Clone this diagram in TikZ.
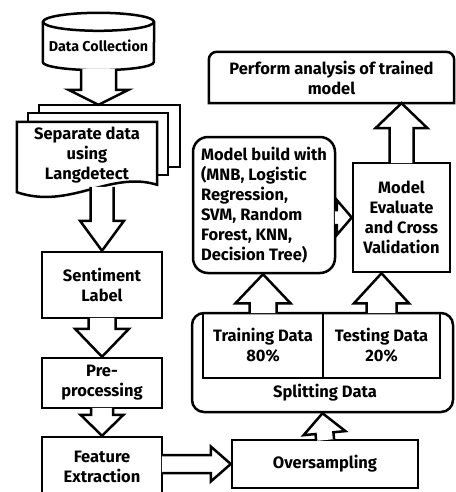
\documentclass[tikz,border=0pt]{standalone}
\usepackage{fontspec}
\setmainfont{Fira Sans}
\usetikzlibrary{calc}
\tikzset{
  ln/.style={line width=2.5pt, line join=miter},
  lbl/.style={inner sep=0pt, align=center, font=\bfseries\fontsize{16.5}{20}\selectfont},
  box/.style={lbl, draw, ln},
  blk/.style={draw, ln, fill=white},
}
\newcommand{\blockarrow}[5]{%
  \draw[blk] let \p1=#1, \p2=#2, \n1={atan2(\y2-\y1,\x2-\x1)}, \n2={veclen(\x2-\x1,\y2-\y1)} in
    [shift={(\p1)}, rotate=\n1] (-1.3,-#3) -- (\n2-#5,-#3) -- (\n2-#5,-#4) -- (\n2,0) -- (\n2-#5,#4) -- (\n2-#5,#3) -- (-1.3,#3);}
\begin{document}
\begin{tikzpicture}[x=1pt,y=-1pt]
\useasboundingbox (0,0) rectangle (455,492);
% Data collection cylinder
\node[lbl, minimum width=111, minimum height=48, font=\bfseries\fontsize{14.3}{16}\selectfont] (dc) at (98.5,46) {Data Collection};
\draw[ln] (dc.north) ellipse [x radius=55.5pt, y radius=9pt];
\draw[ln] (dc.north west) -- ([yshift=8pt]dc.south west) arc[start angle=180, end angle=360, x radius=55.5pt, y radius=8pt] -- (dc.north east);
% multi document
\node[lbl, minimum width=140, minimum height=66] (sep) at (87,155) {Separate data\\using\\Langdetect};
\draw[ln] ($(sep.north west)+(11,0)$) -- ++(0,-9) -- ($(sep.north east)+(11,-9)$) -- ($(sep.north east)+(11,53)$) -- ($(sep.north east)+(0,53)$);
\draw[ln] ($(sep.north west)+(22,-9)$) -- ++(0,-8) -- ($(sep.north east)+(23,-17)$) -- ($(sep.north east)+(23,45)$) -- ($(sep.north east)+(11,45)$);
\draw[ln] (sep.north west) -- (sep.north east) -- ($(sep.north east)+(0,63)$) .. controls ($(sep.south west)+(93,-18)$) and ($(sep.south west)+(53,22)$) .. ($(sep.south west)+(0,4)$) -- cycle;
\coordinate (s3) at ($(sep.north)+(0,-17)$);
% left column boxes
\node[box, minimum width=120, minimum height=66] (sl) at (102,285) {Sentiment\\Label};
\node[box, minimum width=120, minimum height=50] (pp) at (102,383) {Pre-\\processing};
\node[box, minimum width=120, minimum height=60] (fe) at (102,467) {Feature\\Extraction};
% right column
\node[box, minimum width=186, minimum height=48] (os) at (325,464) {Oversampling};
\node[draw, ln, rounded corners=12pt, minimum width=261, minimum height=99, inner sep=0pt] (split) at (322.5,362.5) {};
\node[box, minimum width=120, minimum height=65] (tr) at (263,345.5) {Training Data\\80\%};
\node[box, minimum width=117, minimum height=65] (te) at (381.5,345.5) {Testing Data\\20\%};
\node[lbl] (spl) at (325,393) {Splitting Data};
\node[box, rounded corners=15pt, minimum width=142, minimum height=136, align=left] (mb) at (264,205) {Model build with\\(MNB, Logistic\\Regression,\\SVM, Random\\Forest, KNN,\\Decision Tree)};
\node[box, minimum width=97, minimum height=109] (me) at (401.5,217.5) {Model\\Evaluate\\and Cross\\Validation};
\node[lbl, minimum width=245, minimum height=51] (pa) at (331.5,77.5) {Perform analysis of trained\\model};
\draw[ln] (pa.south west) -- ([yshift=-8pt]pa.north west) to[out=90,in=180] ([xshift=8pt]pa.north west) -- ([xshift=-8pt]pa.north east) to[out=0,in=90] ([yshift=-8pt]pa.north east) -- (pa.south east) -- cycle;
% block arrows
\blockarrow{(dc.south)}{(dc.south |- s3)}{17.5}{30}{15}
\blockarrow{(sl.north |- sep.south)}{(sl.north)}{11.5}{22}{30}
\blockarrow{(sl.south)}{(pp.north)}{13.5}{27}{28}
\blockarrow{(pp.south)}{(fe.north)}{11}{21.5}{21}
\blockarrow{(fe.east |- os.west)}{(os.west)}{9}{17.5}{20}
\blockarrow{(os.north)}{(split.south)}{9}{21}{20}
\blockarrow{(tr.north)}{(tr.north |- mb.south)}{13.5}{27.5}{29}
\blockarrow{(te.north)}{(te.north |- me.south)}{15}{27.5}{30}
\blockarrow{(mb.east |- me.west)}{(me.west)}{7.5}{17.5}{15}
\blockarrow{(me.north)}{(me.north |- pa.south)}{12}{26}{25}
\end{tikzpicture}
\end{document}
